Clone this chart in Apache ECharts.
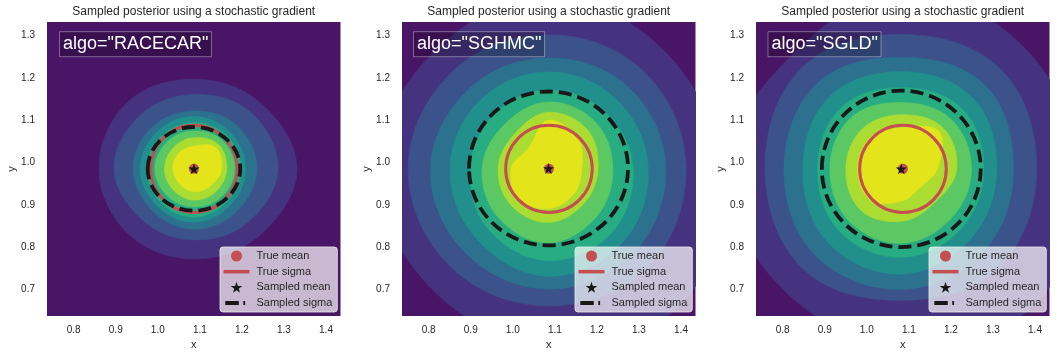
<!DOCTYPE html>
<html>
<head>
<meta charset="utf-8">
<script src="https://cdn.jsdelivr.net/npm/echarts@6/dist/echarts.min.js"></script>
<style>
  html, body { margin: 0; padding: 0; background: #ffffff; }
  #chart { width: 1057px; height: 358px; }
</style>
</head>
<body>
<div id="chart"></div>
<script>
// ---------------- data ----------------
const algos = ['RACECAR', 'SGHMC', 'SGLD'];
const titleText = 'Sampled posterior using a stochastic gradient';
const xTickLabels = ['0.8', '0.9', '1.0', '1.1', '1.2', '1.3', '1.4'];
const yTickLabels = ['0.7', '0.8', '0.9', '1.0', '1.1', '1.2', '1.3'];
const xRange = [0.7365, 1.4345];
const yRange = [0.637, 1.3324];

// true parameters
const trueMean = [1.086, 0.985];
const trueSigma = 0.103;

// sampled statistics per algorithm
const sampledMeanX = [1.086, 1.085, 1.082];
const sampledMeanY = [0.985, 0.986, 0.985];
const sampledSigmaX = [0.110, 0.189, 0.189];
const sampledSigmaY = [0.099, 0.182, 0.185];

// density contour levels (outer -> inner), radius (data units) of each iso-line
// at directions E, NE, N, NW, W, SW, S, SE around the level centre
const contourAngles = [0, 45, 90, 135, 180, 225, 270, 315];
const contourCenterX = [1.086, 1.084, 1.083];
const contourCenterY = [0.985, 0.986, 0.985];
const contourRacecar = [
  [0.245, 0.222, 0.212, 0.223, 0.226, 0.219, 0.213, 0.222],
  [0.200, 0.190, 0.176, 0.180, 0.190, 0.172, 0.168, 0.180],
  [0.150, 0.145, 0.137, 0.140, 0.145, 0.140, 0.143, 0.143],
  [0.123, 0.122, 0.124, 0.124, 0.128, 0.124, 0.126, 0.122],
  [0.112, 0.110, 0.109, 0.109, 0.112, 0.112, 0.114, 0.110],
  [0.097, 0.095, 0.090, 0.090, 0.093, 0.090, 0.090, 0.093],
  [0.078, 0.082, 0.074, 0.070, 0.070, 0.070, 0.074, 0.075],
  [0.066, 0.072, 0.054, 0.052, 0.050, 0.049, 0.054, 0.056]
];
const contourSghmc = [
  [0.404, 0.392, 0.404, 0.387, 0.404, 0.397, 0.416, 0.451],
  [0.328, 0.323, 0.316, 0.323, 0.333, 0.328, 0.325, 0.333],
  [0.280, 0.271, 0.261, 0.266, 0.280, 0.280, 0.285, 0.285],
  [0.238, 0.230, 0.228, 0.228, 0.233, 0.238, 0.255, 0.249],
  [0.202, 0.190, 0.185, 0.181, 0.185, 0.202, 0.218, 0.214],
  [0.154, 0.157, 0.157, 0.147, 0.157, 0.166, 0.176, 0.162],
  [0.119, 0.131, 0.133, 0.114, 0.119, 0.124, 0.128, 0.119],
  [0.080, 0.100, 0.114, 0.067, 0.088, 0.100, 0.095, 0.086]
];
const contourSgld = [
  [0.416, 0.409, 0.416, 0.375, 0.416, 0.401, 0.416, 0.451],
  [0.321, 0.333, 0.318, 0.337, 0.325, 0.333, 0.311, 0.328],
  [0.266, 0.280, 0.264, 0.285, 0.280, 0.290, 0.285, 0.276],
  [0.226, 0.238, 0.230, 0.242, 0.235, 0.247, 0.249, 0.233],
  [0.195, 0.202, 0.192, 0.204, 0.200, 0.209, 0.209, 0.200],
  [0.166, 0.166, 0.157, 0.171, 0.171, 0.176, 0.176, 0.166],
  [0.131, 0.138, 0.128, 0.133, 0.133, 0.138, 0.124, 0.112],
  [0.085, 0.125, 0.097, 0.105, 0.105, 0.105, 0.076, 0.062]
];
const contours = [contourRacecar, contourSghmc, contourSgld];

// ---------------- styles ----------------
const bgColor = '#481567';
const levelColors = ['#46337f', '#3b528b', '#2c718e', '#21908d', '#27ad81', '#5cc863', '#aadc32', '#e4e41a'];
const RED = '#c44e52';
const BLACK = '#181818';
const FONT = "'Liberation Sans', Arial, sans-serif";
const TXT = '#262626';
const gridLeft = [47, 402, 756];
const gridTop = 22, gridW = 293.5, gridH = 294;
const legendLeft = [220, 575, 929];
const boxLeft = [59.5, 413.5, 768];
const STAR = 'path://M50,0 L61.2,34.5 L97.6,34.5 L68.2,55.9 L79.4,90.5 L50,69.1 L20.6,90.5 L31.8,55.9 L2.4,34.5 L38.8,34.5 Z';
const LINE_ICON = 'path://M0,0h26v3.5h-26z';
const DASH_ICON = 'path://M0,0h0.01v4h-0.01z M1.8,0h13.5v4h-13.5z M19.8,0h1.8v4h-1.8z M26,0h0.01v4h-0.01z';

function fmt(labels) {
  return function (v) {
    const s = v.toFixed(1);
    return (Math.abs(v - parseFloat(s)) < 1e-6 && labels.indexOf(s) >= 0) ? s : '';
  };
}

const P = [0, 1, 2];
const series = [];
P.forEach(p => {
  const lv = contours[p];
  series.push({
    type: 'custom', name: 'density' + p, xAxisIndex: p, yAxisIndex: p,
    clip: true, silent: true, z: 1,
    data: lv.map(() => [contourCenterX[p], contourCenterY[p]]),
    renderItem: function (params, api) {
      const i = params.dataIndex;
      const radii = lv[i];
      const pts = contourAngles.map((a, k) => api.coord([
        api.value(0) + radii[k] * Math.cos(a * Math.PI / 180),
        api.value(1) + radii[k] * Math.sin(a * Math.PI / 180)
      ]));
      return {
        type: 'polygon',
        shape: { points: pts, smooth: 0.375 },
        style: { fill: levelColors[i], stroke: levelColors[i], lineWidth: 0.6 }
      };
    }
  });
  series.push({
    type: 'scatter', name: 'True mean', xAxisIndex: p, yAxisIndex: p, z: 3, silent: true,
    symbol: 'circle', symbolSize: 10, itemStyle: { color: RED, opacity: 1 },
    data: [[trueMean[0], trueMean[1]]]
  });
  series.push({
    type: 'custom', name: 'True sigma', xAxisIndex: p, yAxisIndex: p, z: 3, silent: true,
    itemStyle: { color: RED },
    data: [[trueMean[0], trueMean[1], trueSigma, trueSigma]],
    renderItem: function (params, api) {
      const c = api.coord([api.value(0), api.value(1)]);
      const s = api.size([api.value(2), api.value(3)], [api.value(0), api.value(1)]);
      return { type: 'ellipse', shape: { cx: c[0], cy: c[1], rx: s[0], ry: s[1] },
        style: { fill: 'none', stroke: RED, lineWidth: 3 } };
    }
  });
  series.push({
    type: 'scatter', name: 'Sampled mean', xAxisIndex: p, yAxisIndex: p, z: 4, silent: true,
    symbol: STAR, symbolSize: 11, itemStyle: { color: BLACK, opacity: 1 },
    data: [[sampledMeanX[p], sampledMeanY[p]]]
  });
  series.push({
    type: 'custom', name: 'Sampled sigma', xAxisIndex: p, yAxisIndex: p, z: 4, silent: true,
    itemStyle: { color: BLACK },
    data: [[sampledMeanX[p], sampledMeanY[p], sampledSigmaX[p], sampledSigmaY[p]]],
    renderItem: function (params, api) {
      const c = api.coord([api.value(0), api.value(1)]);
      const s = api.size([api.value(2), api.value(3)], [api.value(0), api.value(1)]);
      return { type: 'ellipse', shape: { cx: c[0], cy: c[1], rx: s[0], ry: s[1] },
        style: { fill: 'none', stroke: BLACK, lineWidth: 3.8, lineDash: [13, 6] } };
    }
  });
});

const option = {
  backgroundColor: '#ffffff',
  animation: false,
  textStyle: { fontFamily: FONT },
  title: P.map(p => ({
    text: titleText, left: gridLeft[p] + gridW / 2, textAlign: 'center', top: 5.5, padding: 0,
    textStyle: { fontSize: 12, fontWeight: 'normal', color: TXT, fontFamily: FONT }
  })).concat(P.map(p => ({
    text: 'algo="' + algos[p] + '"', left: boxLeft[p], top: 31.7,
    padding: [2.5, 3.5, 2.5, 3.5],
    backgroundColor: 'rgba(0,0,0,0.22)', borderColor: 'rgba(255,255,255,0.35)', borderWidth: 1,
    textStyle: { fontSize: 18, lineHeight: 20.6, fontWeight: 'normal', color: '#ffffff', fontFamily: FONT }
  }))),
  grid: P.map(p => ({
    left: gridLeft[p], top: gridTop, width: gridW, height: gridH,
    show: true, backgroundColor: bgColor, borderWidth: 0, containLabel: false
  })),
  xAxis: P.map(p => ({
    gridIndex: p, type: 'value', min: xRange[0], max: xRange[1],
    name: 'x', nameLocation: 'middle', nameGap: 22.5,
    nameTextStyle: { fontSize: 11, color: TXT, fontFamily: FONT },
    axisLine: { show: false }, axisTick: { show: false }, splitLine: { show: false },
    axisLabel: { margin: 9, fontSize: 10, color: TXT, fontFamily: FONT, formatter: fmt(xTickLabels) }
  })),
  yAxis: P.map(p => ({
    gridIndex: p, type: 'value', min: yRange[0], max: yRange[1],
    name: 'y', nameLocation: 'middle', nameGap: 29,
    nameTextStyle: { fontSize: 11, color: TXT, fontFamily: FONT },
    axisLine: { show: false }, axisTick: { show: false }, splitLine: { show: false },
    axisLabel: { margin: 12, fontSize: 10, color: TXT, fontFamily: FONT, formatter: fmt(yTickLabels) }
  })),
  legend: P.map(p => ({
    left: legendLeft[p], top: 247, orient: 'vertical',
    itemWidth: 26, itemHeight: 11, itemGap: 4.67,
    padding: [3.5, 5, 3.5, 3.5],
    backgroundColor: 'rgba(255,255,255,0.7)', borderColor: 'rgba(235,235,235,0.8)',
    borderWidth: 1, borderRadius: 3, selectedMode: false, symbolKeepAspect: true,
    textStyle: { fontSize: 11, lineHeight: 11, color: TXT, fontFamily: FONT, padding: [0, 0, 0, 2] },
    data: [
      { name: 'True mean', icon: 'circle', itemStyle: { color: RED, opacity: 1, borderWidth: 0 } },
      { name: 'True sigma', icon: LINE_ICON, itemStyle: { color: RED, opacity: 1, borderWidth: 0 } },
      { name: 'Sampled mean', icon: STAR, itemStyle: { color: BLACK, opacity: 1, borderWidth: 0 } },
      { name: 'Sampled sigma', icon: DASH_ICON, itemStyle: { color: BLACK, opacity: 1, borderWidth: 0 } }
    ]
  })),
  series: series
};

const chart = echarts.init(document.getElementById('chart'), null, { renderer: 'canvas' });
chart.setOption(option);
</script>
</body>
</html>
